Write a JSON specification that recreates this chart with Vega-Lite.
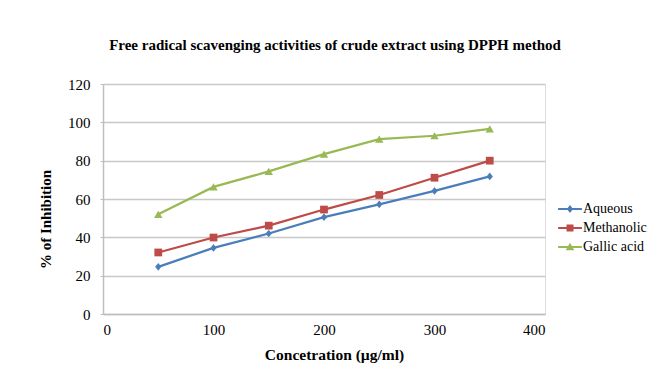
{
  "$schema": "https://vega.github.io/schema/vega-lite/v6.json",
  "width": 442,
  "height": 230,
  "autosize": {"type": "none"},
  "padding": {"left": 103, "top": 84, "right": 126, "bottom": 67},
  "background": "white",
  "config": {"font": "Liberation Serif, Times New Roman, serif"},
  "title": {
    "text": "Free radical scavenging activities of crude extract using DPPH method",
    "font": "Liberation Serif, Times New Roman, serif",
    "fontSize": 15,
    "fontWeight": "bold",
    "color": "black",
    "anchor": "middle",
    "dx": 11,
    "offset": 24
  },
  "datasets": {
    "pts": [
      {"conc": 50, "inhibition": 24.6, "series": "Aqueous"},
      {"conc": 100, "inhibition": 34.5, "series": "Aqueous"},
      {"conc": 150, "inhibition": 42.0, "series": "Aqueous"},
      {"conc": 200, "inhibition": 50.5, "series": "Aqueous"},
      {"conc": 250, "inhibition": 57.2, "series": "Aqueous"},
      {"conc": 300, "inhibition": 64.2, "series": "Aqueous"},
      {"conc": 350, "inhibition": 71.8, "series": "Aqueous"},
      {"conc": 50, "inhibition": 32.1, "series": "Methanolic"},
      {"conc": 100, "inhibition": 39.9, "series": "Methanolic"},
      {"conc": 150, "inhibition": 46.1, "series": "Methanolic"},
      {"conc": 200, "inhibition": 54.5, "series": "Methanolic"},
      {"conc": 250, "inhibition": 62.1, "series": "Methanolic"},
      {"conc": 300, "inhibition": 71.1, "series": "Methanolic"},
      {"conc": 350, "inhibition": 80.0, "series": "Methanolic"},
      {"conc": 50, "inhibition": 52.0, "series": "Gallic acid"},
      {"conc": 100, "inhibition": 66.3, "series": "Gallic acid"},
      {"conc": 150, "inhibition": 74.4, "series": "Gallic acid"},
      {"conc": 200, "inhibition": 83.4, "series": "Gallic acid"},
      {"conc": 250, "inhibition": 91.2, "series": "Gallic acid"},
      {"conc": 300, "inhibition": 93.0, "series": "Gallic acid"},
      {"conc": 350, "inhibition": 96.6, "series": "Gallic acid"}
    ]
  },
  "data": {"name": "pts"},
  "encoding": {
    "x": {
      "field": "conc",
      "type": "quantitative",
      "scale": {"domain": [0, 400], "nice": false},
      "axis": {
        "title": "Concetration  (µg/ml)",
        "values": [0, 100, 200, 300, 400],
        "grid": false,
        "ticks": false,
        "domainColor": "#bfbfbf",
        "domainWidth": 1.5,
        "labelFont": "Liberation Serif, Times New Roman, serif",
        "labelFontSize": 15,
        "labelColor": "black",
        "labelPadding": 8,
        "titleFont": "Liberation Serif, Times New Roman, serif",
        "titleFontSize": 15.5,
        "titleFontWeight": "bold",
        "titleColor": "black",
        "titleX": 231,
        "titlePadding": 10
      }
    },
    "y": {
      "field": "inhibition",
      "type": "quantitative",
      "scale": {"domain": [0, 120], "nice": false},
      "axis": {
        "title": "% of Inhibition",
        "values": [0, 20, 40, 60, 80, 100, 120],
        "gridColor": "#c8c8c8",
        "gridWidth": 1.5,
        "tickSize": 3,
        "tickColor": "#bfbfbf",
        "domainColor": "#bfbfbf",
        "domainWidth": 1.5,
        "labelFont": "Liberation Serif, Times New Roman, serif",
        "labelFontSize": 15,
        "labelColor": "black",
        "labelPadding": 10,
        "titleFont": "Liberation Serif, Times New Roman, serif",
        "titleFontSize": 15,
        "titleFontWeight": "bold",
        "titleColor": "black",
        "titleAngle": -90,
        "titleAlign": "center",
        "titleBaseline": "middle",
        "titleX": -58,
        "titleY": 135
      }
    },
    "color": {
      "field": "series",
      "type": "nominal",
      "scale": {
        "domain": ["Aqueous", "Methanolic", "Gallic acid"],
        "range": ["#4a7ebb", "#be4b48", "#98b954"]
      },
      "legend": {
        "title": null,
        "orient": "none",
        "legendX": 460,
        "legendY": 118,
        "padding": 0,
        "symbolSize": 196,
        "symbolStrokeWidth": 0,
        "labelOffset": 6,
        "rowPadding": 5,
        "labelFont": "Liberation Serif, Times New Roman, serif",
        "labelFontSize": 14,
        "labelColor": "black"
      }
    }
  },
  "layer": [
    {
      "mark": {"type": "line", "strokeWidth": 2.25}
    },
    {
      "transform": [{"filter": "datum.conc < 0"}],
      "mark": {"type": "point", "filled": true, "opacity": 1},
      "encoding": {
        "shape": {
          "field": "series",
          "type": "nominal",
          "scale": {
            "domain": ["Aqueous", "Methanolic", "Gallic acid"],
            "range": [
              "M-1.7,-0.14H1.7V0.14H-1.7Z M0,-0.57L0.45,0L0,0.57L-0.45,0Z",
              "M-1.7,-0.14H1.7V0.14H-1.7Z M-0.5,-0.5H0.5V0.5H-0.5Z",
              "M-1.7,-0.14H1.7V0.14H-1.7Z M0,-0.6L0.62,0.45H-0.62Z"
            ]
          }
        }
      }
    },
    {
      "transform": [{"filter": "datum.series === 'Aqueous'"}],
      "mark": {"type": "point", "filled": true, "opacity": 1, "shape": "M0,-1L0.8,0L0,1L-0.8,0Z", "size": 60}
    },
    {
      "transform": [{"filter": "datum.series === 'Methanolic'"}],
      "mark": {"type": "point", "filled": true, "opacity": 1, "shape": "square", "size": 60}
    },
    {
      "transform": [{"filter": "datum.series === 'Gallic acid'"}],
      "mark": {"type": "point", "filled": true, "opacity": 1, "shape": "triangle-up", "size": 70}
    }
  ]
}
